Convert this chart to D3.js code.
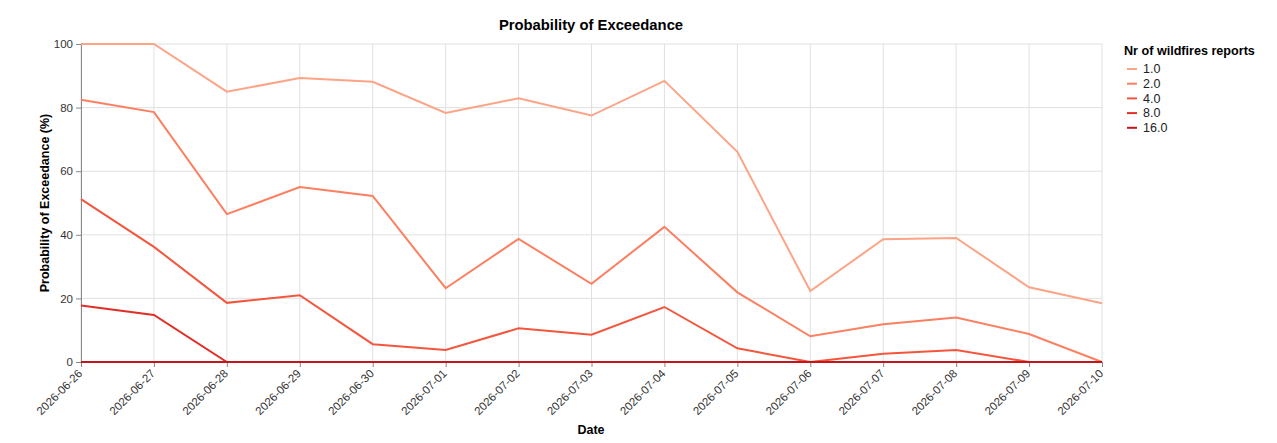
<!DOCTYPE html>
<html>
<head>
<meta charset="utf-8">
<script src="https://cdn.jsdelivr.net/npm/d3@7"></script>
<style>
  body { margin: 0; background: white; }
  text { font-family: "Liberation Sans", Arial, sans-serif; }
</style>
</head>
<body>
<div id="container"></div>
<script>
let w = 1277;
let h = 443;

// data
let dates = ["2026-06-26","2026-06-27","2026-06-28","2026-06-29","2026-06-30","2026-07-01","2026-07-02",
  "2026-07-03","2026-07-04","2026-07-05","2026-07-06","2026-07-07","2026-07-08","2026-07-09","2026-07-10"];
let reports = ["1.0", "2.0", "4.0", "8.0", "16.0"];
let p1 = [100, 100, 85, 89.3, 88.1, 78.3, 82.9, 77.5, 88.4, 66.1, 22.3, 38.6, 39.0, 23.5, 18.5];
let p2 = [82.5, 78.6, 46.5, 55.0, 52.2, 23.2, 38.7, 24.6, 42.5, 21.9, 8.1, 11.9, 14.0, 8.8, 0];
let p4 = [51.2, 36.2, 18.6, 21.0, 5.6, 3.8, 10.6, 8.6, 17.3, 4.3, 0, 2.6, 3.8, 0, 0];
let p8 = [17.8, 14.8, 0, 0, 0, 0, 0, 0, 0, 0, 0, 0, 0, 0, 0];
let p16 = [0, 0, 0, 0, 0, 0, 0, 0, 0, 0, 0, 0, 0, 0, 0];
let yTicks = [0, 20, 40, 60, 80, 100];
let colors = ["#fca486", "#fb7f60", "#f4553d", "#e12f27", "#c2161c"];

let allSeries = [p1, p2, p4, p8, p16];

let margin = {left: 81, right: 175, top: 44, bottom: 81};

let viz = d3.select("#container").append("svg")
  .attr("width", w)
  .attr("height", h)
  .style("background-color", "white");

let xScale = d3.scalePoint().domain(dates).range([margin.left, w - margin.right]);
let yScale = d3.scaleLinear().domain([0, 100]).range([h - margin.bottom, margin.top]);
let colorScale = d3.scaleOrdinal().domain(reports).range(colors);

// grid
viz.append("g").selectAll("line").data(dates).enter().append("line")
  .attr("x1", d => xScale(d)).attr("x2", d => xScale(d))
  .attr("y1", margin.top).attr("y2", h - margin.bottom)
  .attr("stroke", "#e0e0e0");
viz.append("g").selectAll("line").data(yTicks).enter().append("line")
  .attr("x1", margin.left).attr("x2", w - margin.right)
  .attr("y1", d => yScale(d)).attr("y2", d => yScale(d))
  .attr("stroke", "#e0e0e0");

// x axis
let xAxis = viz.append("g")
  .attr("transform", "translate(0," + (h - margin.bottom) + ")")
  .call(d3.axisBottom(xScale).tickSize(5).tickPadding(4));
xAxis.select(".domain").remove();
xAxis.selectAll(".tick line").attr("stroke", "#888");
xAxis.selectAll(".tick text")
  .attr("font-size", 11.5)
  .attr("fill", "#333")
  .attr("text-anchor", "end")
  .attr("dy", "0.35em")
  .attr("transform", "translate(0,8) rotate(-45)")
  .attr("y", 0).attr("x", -2);

// y axis
let yAxis = viz.append("g")
  .attr("transform", "translate(" + margin.left + ",0)")
  .call(d3.axisLeft(yScale).tickValues(yTicks).tickSize(5).tickPadding(3));
yAxis.select(".domain").attr("stroke", "#888");
yAxis.selectAll(".tick line").attr("stroke", "#888");
yAxis.selectAll(".tick text").attr("font-size", 11.5).attr("fill", "#333");

// lines
let lineMaker = d3.line()
  .x((d, i) => xScale(dates[i]))
  .y(d => yScale(d));

// draw so that the darkest series lies on top
viz.append("g").selectAll("path").data(allSeries).enter().append("path")
  .attr("d", d => lineMaker(d))
  .attr("fill", "none")
  .attr("stroke", (d, i) => colorScale(reports[i]))
  .attr("stroke-width", 2);

// titles
viz.append("text")
  .attr("x", 591)
  .attr("y", 30)
  .attr("text-anchor", "middle")
  .attr("font-size", 14.8)
  .attr("font-weight", "bold")
  .attr("fill", "#000")
  .text("Probability of Exceedance");

viz.append("text")
  .attr("x", 591)
  .attr("y", 434)
  .attr("text-anchor", "middle")
  .attr("font-size", 12.5)
  .attr("font-weight", "bold")
  .attr("fill", "#000")
  .text("Date");

viz.append("text")
  .attr("transform", "translate(49," + ((margin.top + h - margin.bottom) / 2) + ") rotate(-90)")
  .attr("text-anchor", "middle")
  .attr("font-size", 12.5)
  .attr("font-weight", "bold")
  .attr("fill", "#000")
  .text("Probability of Exceedance (%)");

// legend
let legend = viz.append("g").attr("transform", "translate(1124,0)");
legend.append("text")
  .attr("x", 0).attr("y", 55)
  .attr("font-size", 12.6)
  .attr("font-weight", "bold")
  .attr("fill", "#000")
  .text("Nr of wildfires reports");

let items = legend.selectAll(".item").data(reports).enter().append("g")
  .attr("class", "item")
  .attr("transform", (d, i) => "translate(0," + (69 + i * 14.7) + ")");
items.append("line")
  .attr("x1", 3).attr("x2", 13)
  .attr("stroke", d => colorScale(d))
  .attr("stroke-width", 2);
items.append("text")
  .attr("x", 19).attr("dy", "0.35em")
  .attr("font-size", 12.5)
  .attr("fill", "#222")
  .text(d => d);
</script>
</body>
</html>
